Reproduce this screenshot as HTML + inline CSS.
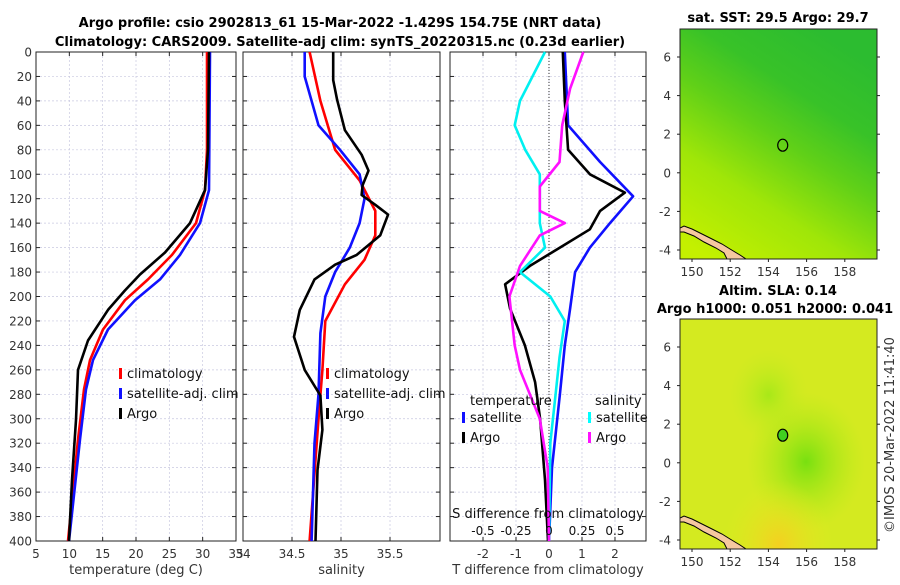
<!DOCTYPE html>
<html><head><meta charset="utf-8"><style>
body{margin:0;background:#fff;width:900px;height:580px;overflow:hidden;font-family:"Liberation Sans","DejaVu Sans",sans-serif}
svg text{font-family:"DejaVu Sans","Liberation Sans",sans-serif}
</style></head><body>
<svg id="c" width="900" height="580" viewBox="0 0 900 580" xmlns="http://www.w3.org/2000/svg">
<defs>
<linearGradient id="sstg" x1="0.15" y1="1" x2="0.7" y2="0">
<stop offset="0" stop-color="#c4f000"/><stop offset="0.3" stop-color="#a0e608"/><stop offset="0.55" stop-color="#60d018"/><stop offset="0.75" stop-color="#38c228"/><stop offset="1" stop-color="#2cbc30"/></linearGradient>
<radialGradient id="slag" cx="0.64" cy="0.62" r="0.3"><stop offset="0" stop-color="#78e010"/><stop offset="1" stop-color="#b0ea18" stop-opacity="0"/></radialGradient>
<radialGradient id="slag2" cx="0.45" cy="0.33" r="0.2"><stop offset="0" stop-color="#a8e818"/><stop offset="1" stop-color="#c8ec20" stop-opacity="0"/></radialGradient>
<radialGradient id="slao" cx="0.5" cy="0.98" r="0.28"><stop offset="0" stop-color="#f4d020"/><stop offset="1" stop-color="#e4ea20" stop-opacity="0"/></radialGradient>
<clipPath id="m1c"><rect x="680" y="29" width="197" height="230"/></clipPath>
<clipPath id="m2c"><rect x="680" y="319" width="197" height="230"/></clipPath>
</defs>
<text x="340" y="27" text-anchor="middle" font-size="13" font-weight="bold">Argo profile: csio 2902813_61 15-Mar-2022 -1.429S 154.75E (NRT data)</text>
<text x="340" y="46" text-anchor="middle" font-size="13" font-weight="bold">Climatology: CARS2009. Satellite-adj clim: synTS_20220315.nc (0.23d earlier)</text>
<g id="plots"></g>
<g id="maps"></g>
<text transform="translate(894,435) rotate(-90)" text-anchor="middle" font-size="13" fill="#333">©IMOS 20-Mar-2022 11:41:40</text>
</svg>
<script>
// depths (dbar) and values per series
const depthTicks=[0,20,40,60,80,100,120,140,160,180,200,220,240,260,280,300,320,340,360,380,400];
const tempTicks=[5,10,15,20,25,30,35];
const salTicks=[34,34.5,35,35.5];
const tdTicks=[-2,-1,0,1,2];
const sdTicks=[-0.5,-0.25,0,0.25,0.5];
const sdTickLabels=["-0.5","-0.25","0","0.25","0.5"];
const tArgoD=[0,80,113,140,164,182,195,211,236,260,301,350,400];
const tArgo=[30.95,30.8,30.35,28.1,24.35,20.6,18.35,15.8,12.8,11.3,11.0,10.4,9.95];
const tClimD=[0,80,113,140,166,186,203,227,252,276,317,400];
const tClim=[30.65,30.65,30.35,29.0,25.4,21.8,18.35,15.05,13.1,12.2,11.3,9.8];
const tSatD=[0,113,140,166,186,203,227,252,276,317,400];
const tSat=[31.1,30.95,29.6,26.6,23.6,19.85,15.8,13.55,12.5,11.6,9.95];
const sArgoD=[0,23,39,64,84,97,109,117,125,133,150,166,174,186,211,233,260,281,309,342,400];
const sArgo=[34.92,34.92,34.96,35.04,35.21,35.28,35.22,35.21,35.35,35.48,35.4,35.16,34.94,34.73,34.58,34.52,34.63,34.79,34.81,34.76,34.74];
const sClimD=[0,40,80,105,130,150,170,190,220,260,300,400];
const sClim=[34.68,34.79,34.94,35.19,35.35,35.35,35.24,35.04,34.84,34.81,34.77,34.68];
const sSatD=[0,20,60,80,100,120,140,160,180,200,230,280,320,400];
const sSat=[34.63,34.63,34.77,34.99,35.19,35.24,35.19,35.09,34.94,34.84,34.79,34.77,34.73,34.70];
const dtArgoD=[0,40,80,100,115,130,145,160,175,190,210,240,270,300,350,400];
const dtArgo=[0.42,0.48,0.58,1.24,2.3,1.55,1.24,0.33,-0.58,-1.33,-1.18,-0.73,-0.42,-0.27,-0.12,-0.03];
const dtSatD=[0,60,90,118,140,160,180,210,240,280,340,400];
const dtSat=[0.48,0.58,1.55,2.55,1.85,1.24,0.79,0.64,0.48,0.33,0.09,0];
const dsSatD=[0,40,60,80,100,140,160,180,200,220,250,280,320,400];
const dsSat=[-0.03,-0.22,-0.26,-0.18,-0.07,-0.07,-0.03,-0.22,0.01,0.12,0.08,0.05,0.01,0];
const dsArgoD=[0,30,60,90,110,130,140,150,175,200,240,260,300,340,400];
const dsArgo=[0.26,0.16,0.1,0.08,-0.07,-0.07,0.12,-0.07,-0.22,-0.3,-0.26,-0.22,-0.07,-0.01,0];
const lonTicks=[150,152,154,156,158];
const latTicks=[6,4,2,0,-2,-4];
const argoLon=154.75, argoLat=1.43;

const NS="http://www.w3.org/2000/svg";
function mk(tag,attrs,parent){const e=document.createElementNS(NS,tag);for(const k in attrs)e.setAttribute(k,attrs[k]);parent.appendChild(e);return e;}
const G=document.getElementById('plots');
const Y0=52,Y1=541;
const yD=d=>Y0+(d/400)*(Y1-Y0);

function panel(name,x0,x1,xmin,xmax,xticks,xlabels,xtitle,showY){
  const g=mk('g',{},G);
  
  
  const sx=v=>x0+(v-xmin)/(xmax-xmin)*(x1-x0);
  depthTicks.forEach(d=>{const l=mk('line',{x1:x0,x2:x1,y1:yD(d),y2:yD(d),stroke:'#c8c8e0','stroke-width':0.7,'stroke-dasharray':'2,2'},g);
    
    mk('line',{x1:x0,x2:x0+4,y1:yD(d),y2:yD(d),stroke:'#222'},g);mk('line',{x1:x1,x2:x1-4,y1:yD(d),y2:yD(d),stroke:'#222'},g);
    if(showY){const t=mk('text',{x:x0-4,y:yD(d)+4.5,'text-anchor':'end','font-size':12,fill:'#333'},g);t.textContent=d;
      }});
  xticks.forEach((v,i)=>{const X=sx(v);mk('line',{x1:X,x2:X,y1:Y0,y2:Y1,stroke:'#c8c8e0','stroke-width':0.7,'stroke-dasharray':'2,2'},g);
    mk('line',{x1:X,x2:X,y1:Y1,y2:Y1-4,stroke:'#222'},g);mk('line',{x1:X,x2:X,y1:Y0,y2:Y0+4,stroke:'#222'},g);
    if(xlabels){const t=mk('text',{x:X,y:Y1+17,'text-anchor':'middle','font-size':12,fill:'#333'},g);t.textContent=xlabels[i];
      }});
  mk('rect',{x:x0,y:Y0,width:x1-x0,height:Y1-Y0,fill:'none',stroke:'#222','stroke-width':1},g);
  const t=mk('text',{x:(x0+x1)/2,y:Y1+33,'text-anchor':'middle','font-size':13,fill:'#333'},g);t.textContent=xtitle;
  
  return {g,sx};
}
function line(p,sx,vals,depths,color,name){
  const pts=vals.map((v,i)=>sx(v).toFixed(1)+','+yD(depths[i]).toFixed(1)).join(' ');
  const l=mk('polyline',{points:pts,fill:'none',stroke:color,'stroke-width':2.6,'stroke-linejoin':'round'},p.g);
  
}
function legend(p,x,y,items){
  items.forEach((it,i)=>{const yy=y+i*20;
    mk('rect',{x:x,y:yy-10,width:3,height:11,fill:it[1]},p.g);
    const t=mk('text',{x:x+8,y:yy,'font-size':13,fill:'#111'},p.g);t.textContent=it[0];
    });
}
const p1=panel('temperature-panel',36,236,5,35,tempTicks,tempTicks.map(String),'temperature (deg C)',true);
line(p1,p1.sx,tClim,tClimD,'#ff0000','temp-climatology-line');
line(p1,p1.sx,tSat,tSatD,'#1010ff','temp-satellite-line');
line(p1,p1.sx,tArgo,tArgoD,'#000','temp-argo-line');
legend(p1,119,378,[['climatology','#f00'],['satellite-adj. clim','#11f'],['Argo','#000']]);

const p2=panel('salinity-panel',243,440,34,36.01,salTicks,salTicks.map(String),'salinity',false);
line(p2,p2.sx,sClim,sClimD,'#ff0000','sal-climatology-line');
line(p2,p2.sx,sSat,sSatD,'#1010ff','sal-satellite-line');
line(p2,p2.sx,sArgo,sArgoD,'#000','sal-argo-line');
legend(p2,326,378,[['climatology','#f00'],['satellite-adj. clim','#11f'],['Argo','#000']]);

const p3=panel('difference-panel',450,646,-3,2.94,tdTicks,tdTicks.map(String),'T difference from climatology',false);
const sxS=v=>p3.sx(v*4);
mk('line',{x1:p3.sx(0),x2:p3.sx(0),y1:Y0,y2:Y1,stroke:'#333','stroke-width':1,'stroke-dasharray':'1,2'},p3.g);
line(p3,p3.sx,dtSat,dtSatD,'#1010ff','tdiff-satellite-line');
line(p3,p3.sx,dtArgo,dtArgoD,'#000','tdiff-argo-line');
line(p3,sxS,dsSat,dsSatD,'#00f0f0','sdiff-satellite-line');
line(p3,sxS,dsArgo,dsArgoD,'#ff10ff','sdiff-argo-line');
{const t=mk('text',{x:470,y:405,'font-size':13,fill:'#111'},p3.g);t.textContent='temperature';
 
 const t2=mk('text',{x:595,y:405,'font-size':13,fill:'#111'},p3.g);t2.textContent='salinity';
 }
legend(p3,462,422,[['satellite','#11f'],['Argo','#000']]);
legend(p3,588,422,[['satellite','#0ff'],['Argo','#f1f']]);
{const t=mk('text',{x:548,y:518,'text-anchor':'middle','font-size':13,fill:'#111'},p3.g);t.textContent='S difference from climatology';
 }
sdTicks.forEach((v,i)=>{const t=mk('text',{x:sxS(v),y:535,'text-anchor':'middle','font-size':12,fill:'#111'},p3.g);t.textContent=sdTickLabels[i];
  });

// maps
const M=document.getElementById('maps');
function map(name,y0,fillFn,title,title2,dotFill){
  const g=mk('g',{},M);
  
  
  const x0=680,x1=877,y1=y0+230;
  const lx=lon=>692+(lon-150)*19.1;
  const ly=lat=>y0+28+(6-lat)*19.3;
  const cg=mk('g',{'clip-path':'url(#'+(y0<100?'m1c':'m2c')+')'},g);
  fillFn(cg,x0,y0);
  mk('path',{d:`M680,${y0+199} L684,${y0+197} L692,${y0+200} L702,${y0+205} L712,${y0+210} L722,${y0+215} L730,${y0+220} L740,${y0+226} L746,${y1} L727,${y1} L724,${y0+224} L716,${y0+219} L704,${y0+213} L694,${y0+207} L684,${y0+203} L680,${y0+203} Z`,fill:'#f5c8a0',stroke:'#000','stroke-width':1},cg);
  mk('rect',{x:x0,y:y0,width:x1-x0,height:230,fill:'none',stroke:'#222'},g);
  lonTicks.forEach(l=>{mk('line',{x1:lx(l),x2:lx(l),y1:y1,y2:y1+3,stroke:'#222'},g);
    const t=mk('text',{x:lx(l),y:y1+17,'text-anchor':'middle','font-size':12,fill:'#333'},g);t.textContent=l;
    });
  latTicks.forEach(l=>{mk('line',{x1:x0-3,x2:x0,y1:ly(l),y2:ly(l),stroke:'#222'},g);mk('line',{x1:x1,x2:x1+3,y1:ly(l),y2:ly(l),stroke:'#222'},g);
    const t=mk('text',{x:x0-9,y:ly(l)+4.5,'text-anchor':'end','font-size':12,fill:'#333'},g);t.textContent=l;
    });
  const c=mk('ellipse',{cx:lx(argoLon),cy:ly(argoLat),rx:5,ry:6,fill:dotFill,stroke:'#000','stroke-width':1.2},g);
  
  const t=mk('text',{x:778,y:title2?y0-24:y0-7,'text-anchor':'middle','font-size':13,'font-weight':'bold'},g);t.textContent=title;
  
  if(title2){const t2=mk('text',{x:775,y:y0-6,'text-anchor':'middle','font-size':13,'font-weight':'bold'},g);t2.textContent=title2;
    }
}
map('sst-map',29,(g,x,y)=>{mk('rect',{x:x,y:y,width:197,height:230,fill:'url(#sstg)'},g);},'sat. SST: 29.5 Argo: 29.7',null,'none');
map('sla-map',319,(g,x,y)=>{mk('rect',{x:x,y:y,width:197,height:230,fill:'#d4ea20'},g);
  mk('rect',{x:x,y:y,width:197,height:230,fill:'url(#slag2)'},g);
  mk('rect',{x:x,y:y,width:197,height:230,fill:'url(#slag)'},g);mk('rect',{x:x,y:y,width:197,height:230,fill:'url(#slao)'},g);},
  'Altim. SLA: 0.14','Argo h1000: 0.051 h2000: 0.041','#40d020');
</script>
</body></html>
